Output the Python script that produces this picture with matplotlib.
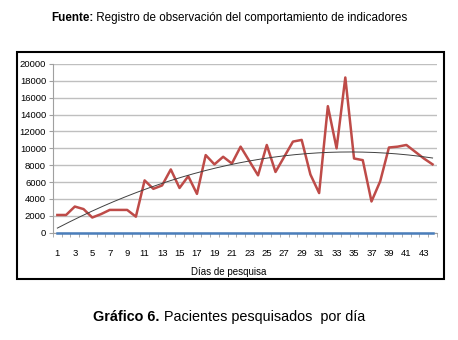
import numpy as np
import matplotlib.pyplot as plt
from matplotlib.patches import Rectangle

plt.rcParams['font.family'] = ['Liberation Sans', 'DejaVu Sans']

# pacientes pesquisados por dia
dias = list(range(1, 45))
pacientes = [2100, 2100, 3100, 2800, 1800, 2200, 2700, 2700, 2700, 1900,
             6200, 5200, 5600, 7500, 5300, 6700, 4600, 9200, 8100, 9000,
             8200, 10200, 8500, 6800, 10400, 7200, 9000, 10800, 11000, 6900,
             4700, 15000, 10000, 18400, 8800, 8600, 3700, 6100, 10100, 10200,
             10400, 9600, 8800, 8100]
serie_cero = [0] * len(dias)
xticks_labels = [str(d) for d in range(1, 44, 2)]


def texto_mixto(fig, y, negrita, normal, size):
    # linea centrada con una parte en negrita y el resto normal
    r = fig.canvas.get_renderer()
    t1 = fig.text(0, y, negrita, fontsize=size, fontweight='bold', va='center')
    t2 = fig.text(0, y, ' ' + normal, fontsize=size, va='center')
    w1 = t1.get_window_extent(r).width
    w2 = t2.get_window_extent(r).width
    W = fig.bbox.width
    x0 = (W - w1 - w2) / 2
    t1.set_x(x0 / W)
    t2.set_x((x0 + w1) / W)


fig = plt.figure(figsize=(4.58, 3.4), dpi=100)
ax = fig.add_axes([0.1157, 0.3156, 0.954 - 0.1157, 0.8118 - 0.3156])

x = np.array(dias)
y = np.array(pacientes)
ax.plot(x, y, color='#BE4B48', lw=1.8, zorder=3)
ax.plot(x, serie_cero, color='#4A7EBB', lw=1.8, zorder=4, clip_on=False)

# linea de tendencia polinomica de orden 2
coef = np.polyfit(x, y, 2)
xt = np.linspace(1, 44, 200)
ax.plot(xt, np.polyval(coef, xt), color='#404040', lw=0.7, zorder=5)

ax.set_xlim(0.5, 44.5)
ax.set_ylim(0, 20000)
ax.set_yticks(range(0, 20001, 2000))
ax.yaxis.grid(True, color='#BFBFBF', lw=1)
ax.set_axisbelow(True)

ax.set_xticks(range(1, 44, 2))
ax.set_xticklabels(xticks_labels)
ax.set_xticks(np.arange(0.5, 45, 1), minor=True)
ax.tick_params(axis='x', which='major', length=0, pad=12, labelsize=6.8)
ax.tick_params(axis='x', which='minor', length=3, color='#A0A0A0', direction='out')
ax.tick_params(axis='y', length=3, color='#A0A0A0', labelsize=6.8, pad=2)

for s in ['top', 'right']:
    ax.spines[s].set_visible(False)
ax.spines['left'].set_color('#A0A0A0')
ax.spines['bottom'].set_color('#A0A0A0')

fig.text(0.5, 0.2, 'Días de pesquisa', ha='center', va='center', fontsize=7)

# marco del grafico
fig.patches.append(Rectangle((0.037, 0.179), 0.932, 0.668, transform=fig.transFigure,
                             fill=False, edgecolor='black', lw=1.5))

texto_mixto(fig, 0.947, 'Fuente:', 'Registro de observación del comportamiento de indicadores', 8.4)
texto_mixto(fig, 0.068, 'Gráfico 6.', 'Pacientes pesquisados  por día', 10.4)

fig.savefig('out.png', dpi=100)
